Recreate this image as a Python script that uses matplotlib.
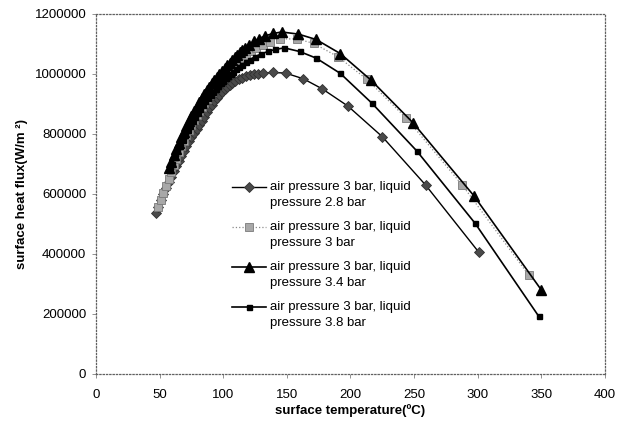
import matplotlib
matplotlib.use('Agg')
import matplotlib.pyplot as plt
from matplotlib.legend_handler import HandlerLine2D

plt.rcParams['font.family'] = ['Liberation Sans', 'DejaVu Sans']
plt.rcParams['font.size'] = 9.5

# air pressure 3 bar, liquid pressure 2.8 bar (diamonds)
t_28 = [47, 49, 51, 53, 55, 57, 59, 61, 63, 65, 67, 69, 71, 73, 75, 77, 79, 81, 83,
        85, 87, 89, 91, 93, 95, 97, 99, 101, 103, 105, 107, 109, 112, 115, 118, 121,
        124, 127, 131, 139, 149, 163, 178, 198, 225, 259, 301]
q_28 = [535000, 558000, 580000, 600000, 620000, 640000, 658000, 676000, 694000,
        711000, 728000, 744000, 760000, 775000, 790000, 804000, 818000, 831000,
        844000, 858000, 872000, 886000, 898000, 910000, 921000, 931000, 940000,
        949000, 957000, 964000, 970000, 975000, 982000, 988000, 992000, 996000,
        999000, 1001000, 1003000, 1005000, 1003000, 984000, 950000, 893000,
        791000, 630000, 405000]

# liquid pressure 3 bar (grey squares)
t_30 = [49, 51, 53, 55, 57, 59, 61, 63, 65, 67, 69, 71, 73, 75, 77, 79, 81, 83, 85,
        87, 89, 91, 93, 95, 97, 99, 101, 103, 105, 107, 109, 111, 113, 115, 118, 122,
        126, 131, 137, 145, 158, 171, 190, 213, 244, 288, 340]
q_30 = [555000, 580000, 604000, 628000, 651000, 674000, 697000, 718000, 739000,
        759000, 778000, 796000, 814000, 831000, 847000, 862000, 877000, 891000,
        904000, 917000, 929000, 941000, 952000, 963000, 974000, 984000, 994000,
        1003000, 1012000, 1020000, 1029000, 1037000, 1045000, 1052000, 1062000,
        1075000, 1086000, 1097000, 1107000, 1117000, 1117000, 1102000, 1058000,
        982000, 852000, 629000, 330000]

# liquid pressure 3.4 bar (triangles)
t_34 = [57, 59, 61, 63, 65, 67, 69, 71, 73, 75, 77, 79, 81, 83, 85, 87, 89, 91, 93,
        95, 97, 99, 101, 103, 105, 107, 109, 111, 113, 115, 117, 120, 124, 128, 133,
        139, 146, 159, 173, 192, 216, 249, 297, 350]
q_34 = [685000, 707000, 729000, 750000, 770000, 790000, 808000, 826000, 843000,
        860000, 876000, 891000, 906000, 920000, 933000, 946000, 958000, 969000,
        980000, 991000, 1001000, 1011000, 1020000, 1029000, 1038000, 1047000,
        1056000, 1064000, 1072000, 1080000, 1087000, 1097000, 1109000, 1118000,
        1127000, 1135000, 1140000, 1133000, 1115000, 1068000, 980000, 838000,
        594000, 280000]

# liquid pressure 3.8 bar (black squares)
t_38 = [58, 60, 62, 64, 66, 68, 70, 72, 74, 76, 78, 80, 82, 84, 86, 88, 90, 92, 94,
        96, 98, 100, 102, 104, 106, 108, 110, 112, 115, 118, 121, 125, 130, 135, 141,
        148, 160, 173, 192, 217, 252, 298, 348]
q_38 = [680000, 701000, 722000, 742000, 761000, 779000, 796000, 812000, 828000,
        843000, 857000, 871000, 884000, 897000, 909000, 920000, 931000, 941000,
        951000, 960000, 969000, 978000, 986000, 994000, 1001000, 1008000, 1015000,
        1022000, 1031000, 1040000, 1048000, 1058000, 1067000, 1075000, 1082000,
        1087000, 1075000, 1053000, 1002000, 902000, 744000, 502000, 192000]

labels = ['air pressure 3 bar, liquid\npressure 2.8 bar',
          'air pressure 3 bar, liquid\npressure 3 bar',
          'air pressure 3 bar, liquid\npressure 3.4 bar',
          'air pressure 3 bar, liquid\npressure 3.8 bar']

x_ticks = [0, 50, 100, 150, 200, 250, 300, 350, 400]
y_ticks = [0, 200000, 400000, 600000, 800000, 1000000, 1200000]


class TopLineHandler(HandlerLine2D):
    # put the legend sample level with the first line of a two-line label
    def create_artists(self, legend, orig_handle, xdescent, ydescent,
                       width, height, fontsize, trans):
        return super().create_artists(legend, orig_handle, xdescent,
                                      ydescent - 1.25 * fontsize, width, height,
                                      fontsize, trans)


fig = plt.figure(figsize=(6.29, 4.28), dpi=100)
ax = fig.add_axes([0.1526, 0.1262, 0.8092, 0.8411])

ax.plot(t_28, q_28, color='black', lw=1.0, marker='D', ms=5.2,
        mfc='#4a4a4a', mec='#303030', mew=0.6, label=labels[0])
ax.plot(t_30, q_30, color='#8a8a8a', lw=0.9, ls=':', marker='s', ms=5.5,
        mfc='#a8a8a8', mec='#7a7a7a', mew=0.6, label=labels[1])
ax.plot(t_34, q_34, color='black', lw=1.2, marker='^', ms=7.2,
        mfc='black', mec='black', label=labels[2])
ax.plot(t_38, q_38, color='black', lw=1.2, marker='s', ms=3.6,
        mfc='black', mec='black', label=labels[3])

ax.set_xlim(0, 400)
ax.set_ylim(0, 1200000)
ax.set_xticks(x_ticks)
ax.set_xticklabels([str(v) for v in x_ticks])
ax.set_yticks(y_ticks)
ax.set_yticklabels([str(v) for v in y_ticks])
ax.tick_params(direction='out', length=3, width=0.6, color='#808080', labelsize=9.5)
ax.tick_params(axis='x', pad=8)
ax.tick_params(axis='y', pad=4)

for s in ax.spines.values():
    s.set_linestyle(':')
    s.set_color('#606060')
    s.set_linewidth(0.9)

ax.set_xlabel('surface temperature(ºC)', fontweight='bold', fontsize=9.5, labelpad=2)
ax.set_ylabel('surface heat flux(W/m ²)', fontweight='bold', fontsize=9.5, labelpad=5)

handles, _ = ax.get_legend_handles_labels()
leg = ax.legend(handles, labels, loc='upper left', bbox_to_anchor=(0.358, 0.592),
                bbox_transform=fig.transFigure, frameon=False, fontsize=9.5,
                handlelength=2.6, handletextpad=0.3, labelspacing=0.9, borderpad=0,
                handler_map={h: TopLineHandler() for h in handles})
for t in leg.get_texts():
    t.set_linespacing(1.45)

fig.savefig('out.png', dpi=100)
